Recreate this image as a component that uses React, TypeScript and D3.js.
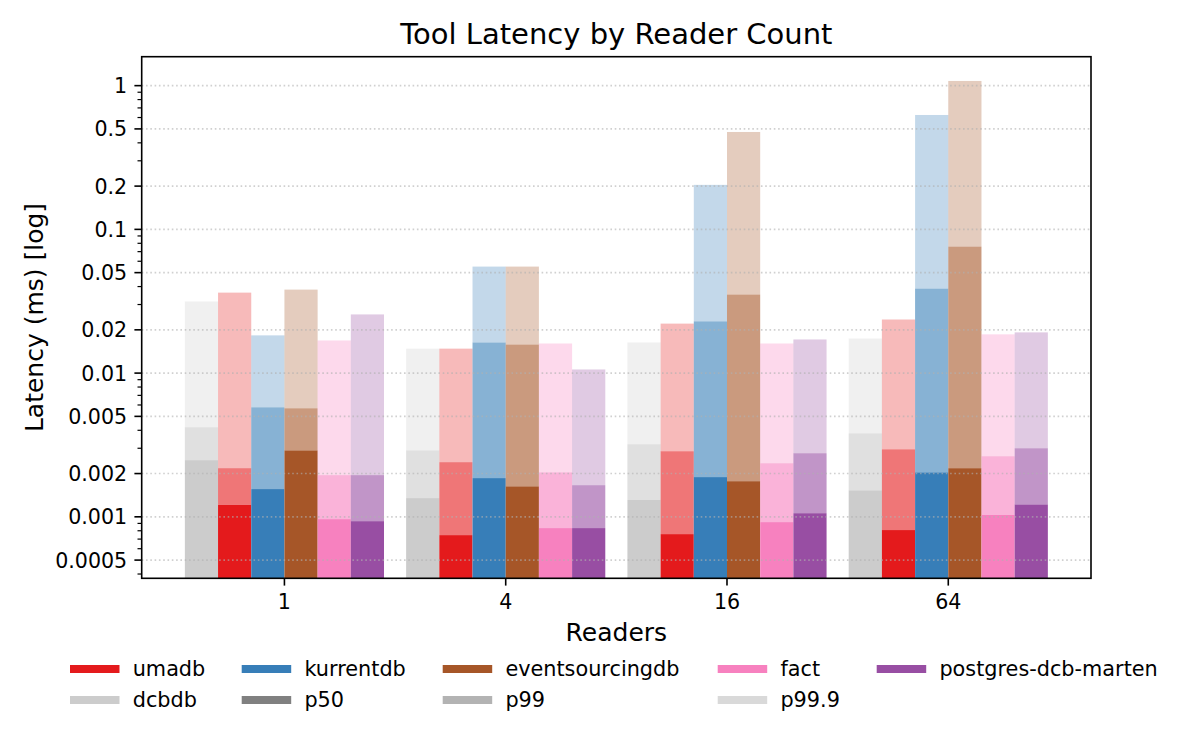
import React from "react";
import * as d3 from "d3";

const readers = ["1", "4", "16", "64"];
const seriesNames = ["dcbdb", "umadb", "kurrentdb", "eventsourcingdb", "fact", "postgres-dcb-marten"];
const seriesColors = ["#cccccc", "#e41a1c", "#377eb8", "#a65628", "#f781bf", "#984ea3"];

const p50 = [
  [0.00248, 0.00135, 0.00131, 0.00153],
  [0.00121, 0.000746, 0.000758, 0.000809],
  [0.00156, 0.00186, 0.00189, 0.00204],
  [0.0029, 0.00163, 0.00177, 0.00218],
  [0.000964, 0.000835, 0.000919, 0.00103],
  [0.000933, 0.000835, 0.00106, 0.00122],
];
const p99 = [
  [0.0042, 0.0029, 0.0032, 0.00381],
  [0.00218, 0.0024, 0.00286, 0.00295],
  [0.00578, 0.01633, 0.0229, 0.0387],
  [0.00569, 0.0158, 0.0352, 0.0759],
  [0.00195, 0.00204, 0.00236, 0.00264],
  [0.00195, 0.00166, 0.00277, 0.003],
];
const p999 = [
  [0.0315, 0.0148, 0.01633, 0.0174],
  [0.0363, 0.0148, 0.0221, 0.0236],
  [0.0183, 0.0551, 0.204, 0.625],
  [0.0381, 0.0551, 0.476, 1.078],
  [0.01686, 0.01607, 0.01607, 0.0186],
  [0.0256, 0.0106, 0.01714, 0.0192],
];

const yTicks = [0.0005, 0.001, 0.002, 0.005, 0.01, 0.02, 0.05, 0.1, 0.2, 0.5, 1];
const yTickLabels = ["0.0005", "0.001", "0.002", "0.005", "0.01", "0.02", "0.05", "0.1", "0.2", "0.5", "1"];

const legendItems = [
  { label: "umadb", color: "#e41a1c" },
  { label: "dcbdb", color: "#cccccc" },
  { label: "kurrentdb", color: "#377eb8" },
  { label: "p50", color: "#808080" },
  { label: "eventsourcingdb", color: "#a65628" },
  { label: "p99", color: "#b3b3b3" },
  { label: "fact", color: "#f781bf" },
  { label: "p99.9", color: "#d9d9d9" },
  { label: "postgres-dcb-marten", color: "#984ea3" },
];

const W = 1200;
const H = 750;
const L = 141.7, R = 1091, T = 56.7, B = 578.3;
const FONT = "DejaVu Sans, sans-serif";

export default function App() {
  const x = d3.scaleLinear().domain([-0.645, 3.645]).range([L, R]);
  const y = d3.scaleLog().domain([0.0003735, 1.59]).range([B, T]);
  const bw = 0.15;
  const nS = seriesNames.length;

  const minorTicks: number[] = [];
  for (let k = -4; k <= 0; k++) {
    for (const m of [3, 4, 6, 7, 8, 9]) {
      const v = m * Math.pow(10, k);
      if (v >= 0.0003735 && v <= 1.59) minorTicks.push(v);
    }
  }

  const bars: React.ReactNode[] = [];
  seriesNames.forEach((s, i) => {
    readers.forEach((r, j) => {
      const cx = j + (i - (nS - 1) / 2) * bw;
      const x0 = x(cx - bw / 2);
      const x1 = x(cx + bw / 2);
      const w = x1 - x0;
      const c = seriesColors[i];
      const y50 = y(p50[i][j]);
      const y99 = y(p99[i][j]);
      const y999 = y(p999[i][j]);
      bars.push(
        <g key={`${s}-${r}`}>
          <rect x={x0} y={y999} width={w} height={y99 - y999} fill={c} fillOpacity={0.3} />
          <rect x={x0} y={y99} width={w} height={y50 - y99} fill={c} fillOpacity={0.6} />
          <rect x={x0} y={y50} width={w} height={B - y50} fill={c} />
        </g>
      );
    });
  });

  const legCols = [70, 241.7, 442.7, 717.7, 876.7];
  const legRows = [669, 700];

  return (
    <svg width={W} height={H} style={{ position: "absolute", left: 0, top: 0, background: "#fff" }} fontFamily={FONT}>
      <rect x={0} y={0} width={W} height={H} fill="#fff" />
      <defs>
        <clipPath id="plotclip">
          <rect x={L} y={T} width={R - L} height={B - T} />
        </clipPath>
      </defs>
      <g clipPath="url(#plotclip)">{bars}</g>
      {/* grid */}
      <g>
        {yTicks.map((t) => (
          <line key={t} x1={L} x2={R} y1={y(t)} y2={y(t)} stroke="#b0b0b0" strokeOpacity={0.6} strokeWidth={1.6} strokeDasharray="1.6,2.7" />
        ))}
      </g>
      {/* spines */}
      <rect x={L} y={T} width={R - L} height={B - T} fill="none" stroke="#000" strokeWidth={1.6} />
      {/* y ticks */}
      <g>
        {yTicks.map((t, k) => (
          <g key={t}>
            <line x1={L - 7.3} x2={L} y1={y(t)} y2={y(t)} stroke="#000" strokeWidth={1.6} />
            <text x={L - 14.5} y={y(t) + 7.5} textAnchor="end" fontSize={20.6} fill="#000">{yTickLabels[k]}</text>
          </g>
        ))}
        {minorTicks.map((t) => (
          <line key={"m" + t} x1={L - 4.2} x2={L} y1={y(t)} y2={y(t)} stroke="#000" strokeWidth={1.2} />
        ))}
      </g>
      {/* x ticks */}
      <g>
        {readers.map((r, j) => (
          <g key={r}>
            <line x1={x(j)} x2={x(j)} y1={B} y2={B + 7.3} stroke="#000" strokeWidth={1.6} />
            <text x={x(j)} y={609} textAnchor="middle" fontSize={20.6} fill="#000">{r}</text>
          </g>
        ))}
      </g>
      {/* labels */}
      <text x={(L + R) / 2} y={641} textAnchor="middle" fontSize={25} fill="#000">Readers</text>
      <text transform={`translate(43, ${(T + B) / 2}) rotate(-90)`} textAnchor="middle" fontSize={25} fill="#000">Latency (ms) [log]</text>
      <text x={(L + R) / 2} y={44} textAnchor="middle" fontSize={29} fill="#000">Tool Latency by Reader Count</text>
      {/* legend */}
      <g>
        {legendItems.map((it, k) => {
          const col = Math.floor(k / 2);
          const row = k % 2;
          const lx = legCols[col];
          const ly = legRows[row];
          return (
            <g key={it.label}>
              <line x1={lx} x2={lx + 49.5} y1={ly} y2={ly} stroke={it.color} strokeWidth={8} />
              <text x={lx + 62.7} y={ly + 7.3} fontSize={20.8} fill="#000">{it.label}</text>
            </g>
          );
        })}
      </g>
    </svg>
  );
}
